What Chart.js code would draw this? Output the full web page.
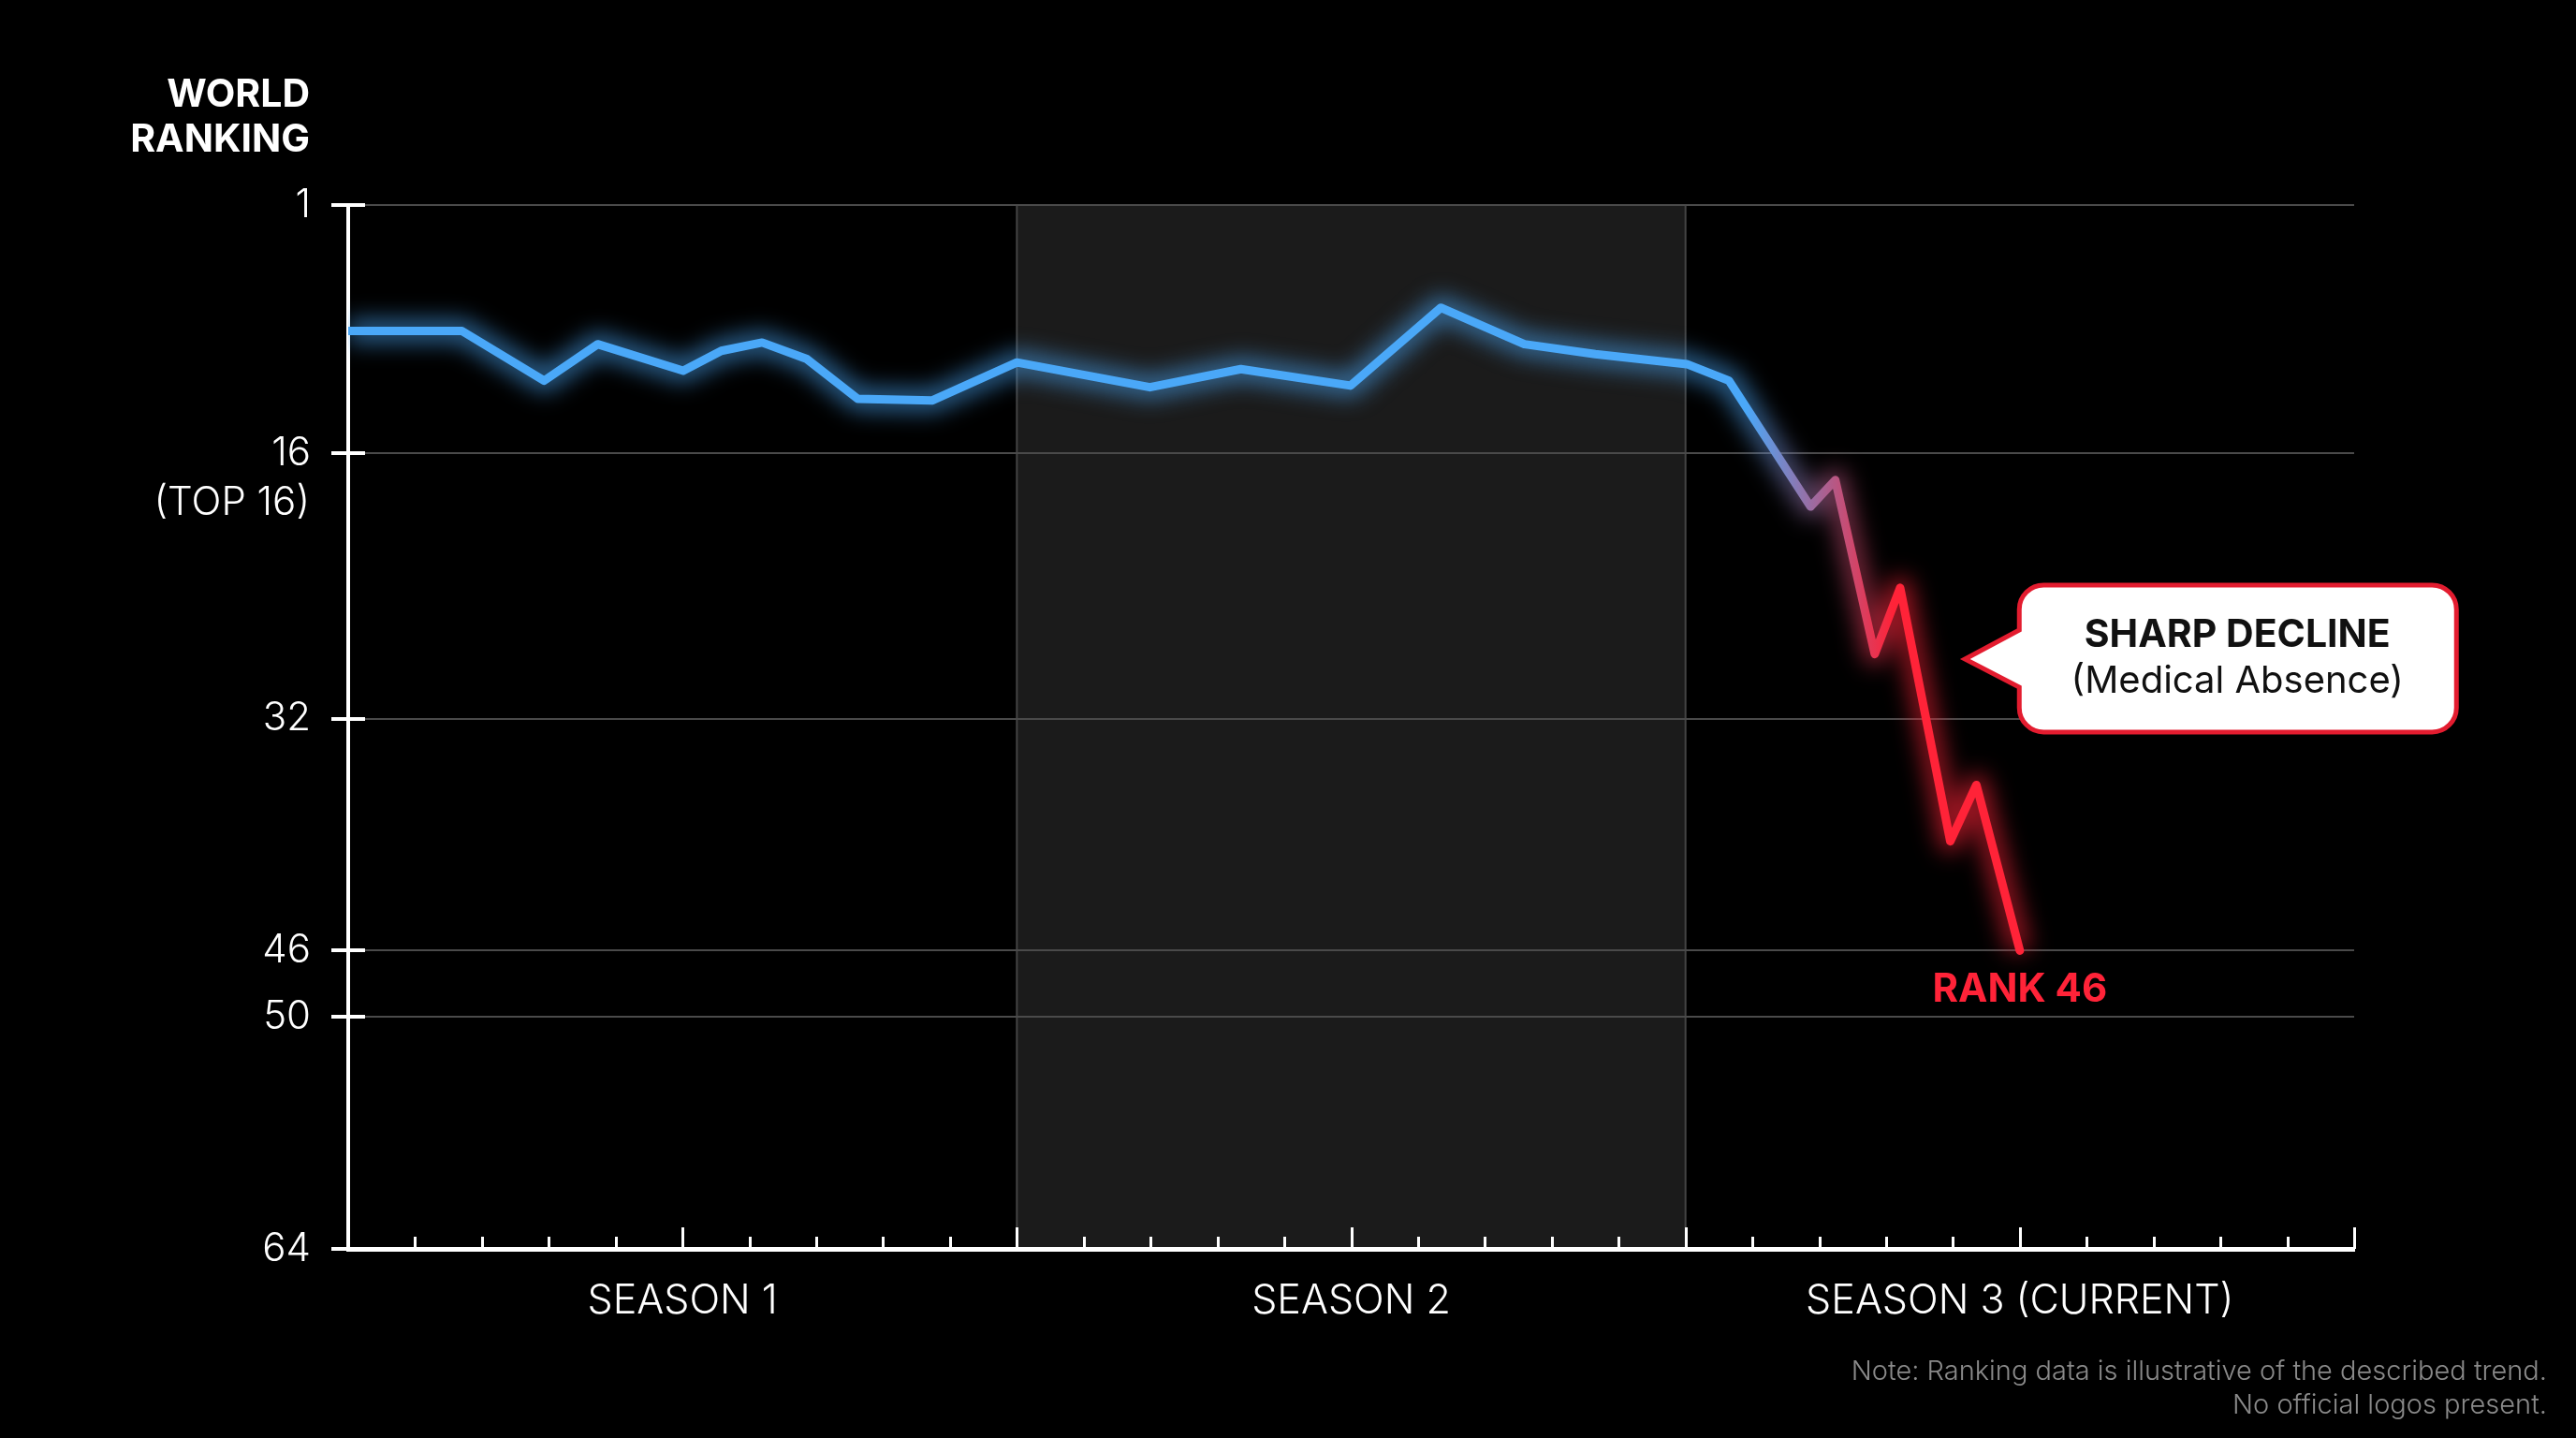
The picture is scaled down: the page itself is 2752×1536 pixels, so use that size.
<!DOCTYPE html>
<html>
<head>
<meta charset="utf-8">
<script src="https://cdn.jsdelivr.net/npm/chart.js@4.4.1/dist/chart.umd.min.js"></script>
<style>
  html, body { margin: 0; padding: 0; background: #000; }
  #wrap { width: 2752px; height: 1536px; }
</style>
</head>
<body>
<div id="wrap"><canvas id="rankChart" width="2752" height="1536"></canvas></div>
<script>
// ---- data ----
const seasonLabels = ["SEASON 1", "SEASON 2", "SEASON 3 (CURRENT)"];
const seasonLabelAt = [5, 15, 25];
const rankTicks = [1, 16, 32, 46, 50, 64];
// x position in tournament slots (10 per season), y = world ranking
const slotPos = [0, 1.70, 2.93, 3.73, 5.01, 5.58, 6.19, 6.86, 7.62, 8.73,
                 10.0, 11.99, 13.35, 14.99, 16.34, 17.59, 18.65, 20.02,
                 20.65, 21.87, 22.24, 22.83, 23.21, 23.96, 24.35, 25.0];
const rankValues = [8.6, 8.6, 11.6, 9.4, 11.0, 9.8, 9.3, 10.3, 12.7, 12.8,
                    10.5, 12.0, 10.9, 11.9, 7.2, 9.4, 10.0, 10.6,
                    11.6, 19.2, 17.6, 28.1, 24.1, 39.4, 36.0, 46];

const FONT = "Inter, 'Open Sans', sans-serif";
const BLUE = "#4aa8f8";
const RED = "#ff2338";

const points = slotPos.map((x, i) => ({ x: x, y: rankValues[i] }));

function lineGradient(ctx, alpha) {
  const chart = ctx.chart;
  if (!chart.chartArea) return BLUE;
  const xs = chart.scales.x;
  const g = chart.ctx.createLinearGradient(xs.getPixelForValue(20.9), 0, xs.getPixelForValue(23.1), 0);
  g.addColorStop(0, alpha ? "rgba(74,168,248," + alpha + ")" : BLUE);
  g.addColorStop(1, alpha ? "rgba(255,35,56," + alpha + ")" : RED);
  return g;
}

// season 2 shaded band
const seasonBand = {
  id: "seasonBand",
  beforeDraw(chart) {
    const { ctx, chartArea } = chart;
    const xs = chart.scales.x;
    const x1 = xs.getPixelForValue(10), x2 = xs.getPixelForValue(20);
    ctx.save();
    ctx.fillStyle = "#1b1b1b";
    ctx.fillRect(x1, chartArea.top, x2 - x1, chartArea.bottom - chartArea.top);
    ctx.strokeStyle = "#444";
    ctx.lineWidth = 2;
    ctx.beginPath();
    ctx.moveTo(x1, chartArea.top); ctx.lineTo(x1, chartArea.bottom);
    ctx.moveTo(x2, chartArea.top); ctx.lineTo(x2, chartArea.bottom);
    ctx.stroke();
    ctx.restore();
  }
};

// blur the glow dataset
const glow = {
  id: "glow",
  beforeDatasetDraw(chart, args) {
    if (args.index === 1) { chart.ctx.save(); chart.ctx.filter = "blur(12px)"; }
  },
  afterDatasetDraw(chart, args) {
    if (args.index === 1) chart.ctx.restore();
  }
};

const overlay = {
  id: "overlay",
  afterDraw(chart) {
    const { ctx, chartArea } = chart;
    const xs = chart.scales.x, ys = chart.scales.y;
    ctx.save();

    // x tick marks pointing up
    ctx.strokeStyle = "#fff";
    ctx.lineWidth = 3;
    xs.ticks.forEach(t => {
      if (t.value === 0) return;
      const px = Math.round(xs.getPixelForValue(t.value)) + 0.5;
      const len = t.value % 5 === 0 ? 23 : 13;
      ctx.beginPath();
      ctx.moveTo(px, chartArea.bottom);
      ctx.lineTo(px, chartArea.bottom - len);
      ctx.stroke();
    });

    // y tick marks across the axis
    ctx.lineWidth = 4;
    rankTicks.forEach(v => {
      const py = Math.round(ys.getPixelForValue(v));
      ctx.beginPath();
      ctx.moveTo(chartArea.left - 18, py);
      ctx.lineTo(chartArea.left + 18, py);
      ctx.stroke();
    });

    // axis title
    ctx.fillStyle = "#fff";
    ctx.textAlign = "right";
    ctx.textBaseline = "middle";
    ctx.font = "700 41px " + FONT;
    ctx.fillText("WORLD", 331, 102);
    ctx.fillText("RANKING", 331, 150);

    ctx.font = "300 42px " + FONT;
    ctx.fillText("(TOP 16)", 331, ys.getPixelForValue(16) + 53);

    // end label
    const last = points[points.length - 1];
    ctx.fillStyle = RED;
    ctx.textAlign = "center";
    ctx.font = "700 42px " + FONT;
    ctx.fillText("RANK 46", xs.getPixelForValue(last.x), ys.getPixelForValue(last.y) + 42);

    // callout
    const tx = xs.getPixelForValue(24.18), ty = ys.getPixelForValue(28.4);
    const bx = tx + 58, by = ty - 79, bw = 467, bh = 157, r = 26;
    ctx.beginPath();
    ctx.moveTo(bx + r, by);
    ctx.lineTo(bx + bw - r, by);
    ctx.arcTo(bx + bw, by, bx + bw, by + r, r);
    ctx.lineTo(bx + bw, by + bh - r);
    ctx.arcTo(bx + bw, by + bh, bx + bw - r, by + bh, r);
    ctx.lineTo(bx + r, by + bh);
    ctx.arcTo(bx, by + bh, bx, by + bh - r, r);
    ctx.lineTo(bx, ty + 30);
    ctx.lineTo(tx, ty);
    ctx.lineTo(bx, ty - 31);
    ctx.lineTo(bx, by + r);
    ctx.arcTo(bx, by, bx + r, by, r);
    ctx.closePath();
    ctx.fillStyle = "#fff";
    ctx.fill();
    ctx.strokeStyle = "#e31c2f";
    ctx.lineWidth = 5;
    ctx.stroke();

    ctx.fillStyle = "#111";
    ctx.font = "700 41px " + FONT;
    ctx.fillText("SHARP DECLINE", tx + 291, ty - 25);
    ctx.font = "400 40px " + FONT;
    ctx.fillText("(Medical Absence)", tx + 291, ty + 24);

    // footnote
    ctx.fillStyle = "#8a8a8a";
    ctx.textAlign = "right";
    ctx.font = "300 29px " + FONT;
    ctx.fillText("Note: Ranking data is illustrative of the described trend.", 2721, 1465);
    ctx.fillText("No official logos present.", 2721, 1501);

    ctx.restore();
  }
};

new Chart(document.getElementById("rankChart"), {
  type: "line",
  data: {
    datasets: [
      {
        label: "World ranking",
        data: points,
        borderColor: (c) => lineGradient(c),
        borderWidth: 9,
        borderJoinStyle: "round",
        borderCapStyle: "round",
        pointRadius: 0,
        tension: 0,
        fill: false
      },
      {
        label: "glow",
        data: points,
        borderColor: (c) => lineGradient(c, 0.6),
        borderWidth: 24,
        borderJoinStyle: "round",
        pointRadius: 0,
        tension: 0,
        fill: false
      }
    ]
  },
  options: {
    responsive: false,
    animation: false,
    devicePixelRatio: 1,
    layout: { padding: { top: 219, right: 237, left: 0, bottom: 0 } },
    plugins: { legend: { display: false }, tooltip: { enabled: false } },
    scales: {
      x: {
        type: "linear",
        min: 0,
        max: 30,
        afterFit: (s) => { s.height = 202; },
        grid: { display: false, drawTicks: false },
        border: { color: "#fff", width: 5 },
        ticks: {
          stepSize: 1,
          autoSkip: false,
          maxRotation: 0,
          padding: 30,
          color: "#fff",
          font: { family: FONT, size: 43, weight: "300" },
          callback: (v) => {
            const i = seasonLabelAt.indexOf(v);
            return i >= 0 ? seasonLabels[i] : "";
          }
        }
      },
      y: {
        type: "linear",
        reverse: true,
        min: 1,
        max: 64,
        afterFit: (s) => { s.width = 372; },
        afterBuildTicks: (s) => { s.ticks = rankTicks.map(v => ({ value: v })); },
        grid: { color: "#4a4a4a", lineWidth: 2, drawTicks: false },
        border: { color: "#fff", width: 4 },
        ticks: {
          padding: 40,
          color: "#fff",
          font: { family: FONT, size: 42, weight: "300" }
        }
      }
    }
  },
  plugins: [seasonBand, glow, overlay]
});
</script>
</body>
</html>
